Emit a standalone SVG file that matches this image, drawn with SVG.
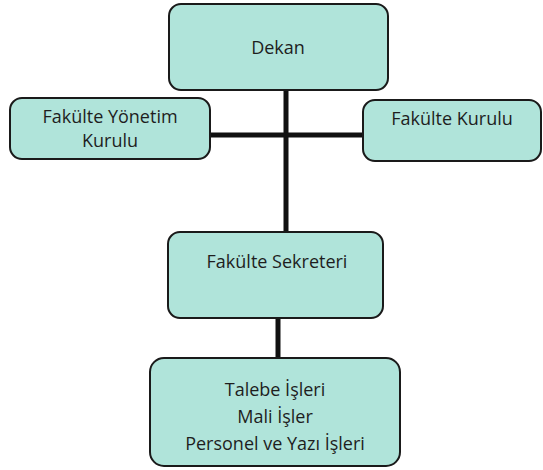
<svg xmlns="http://www.w3.org/2000/svg" width="543" height="470" viewBox="0 0 543 470">
<style>
.box{fill:#b0e4da;stroke:#1a1a1a;stroke-width:2}
.t{font-family:"Open Sans","Noto Sans",sans-serif;font-size:18px;fill:#1e1e1e;text-anchor:middle}
.c{stroke:#111;stroke-width:5;fill:none}
</style>
<rect width="543" height="470" fill="#ffffff"/>
<g id="connectors">
<line class="c" x1="286" y1="90" x2="286" y2="232"/>
<line class="c" x1="210" y1="135" x2="363" y2="135"/>
<line class="c" x1="278" y1="318" x2="278" y2="358"/>
</g>
<g id="dekan">
<rect class="box" x="169" y="4" width="219" height="86" rx="12"/>
<text class="t" x="278" y="54">Dekan</text>
</g>
<g id="yonetim">
<rect class="box" x="10" y="98" width="200" height="61" rx="12"/>
<text class="t" x="110" y="123">Fakülte Yönetim</text>
<text class="t" x="110" y="147">Kurulu</text>
</g>
<g id="kurul">
<rect class="box" x="363" y="100" width="178" height="61" rx="12"/>
<text class="t" x="452" y="125">Fakülte Kurulu</text>
</g>
<g id="sekreter">
<rect class="box" x="168" y="232" width="215" height="86" rx="12"/>
<text class="t" x="277" y="268">Fakülte Sekreteri</text>
</g>
<g id="isler">
<rect class="box" x="150" y="358" width="250" height="108" rx="14"/>
<text class="t" x="275" y="396">Talebe İşleri</text>
<text class="t" x="275" y="423">Mali İşler</text>
<text class="t" x="275" y="450">Personel ve Yazı İşleri</text>
</g>
</svg>
